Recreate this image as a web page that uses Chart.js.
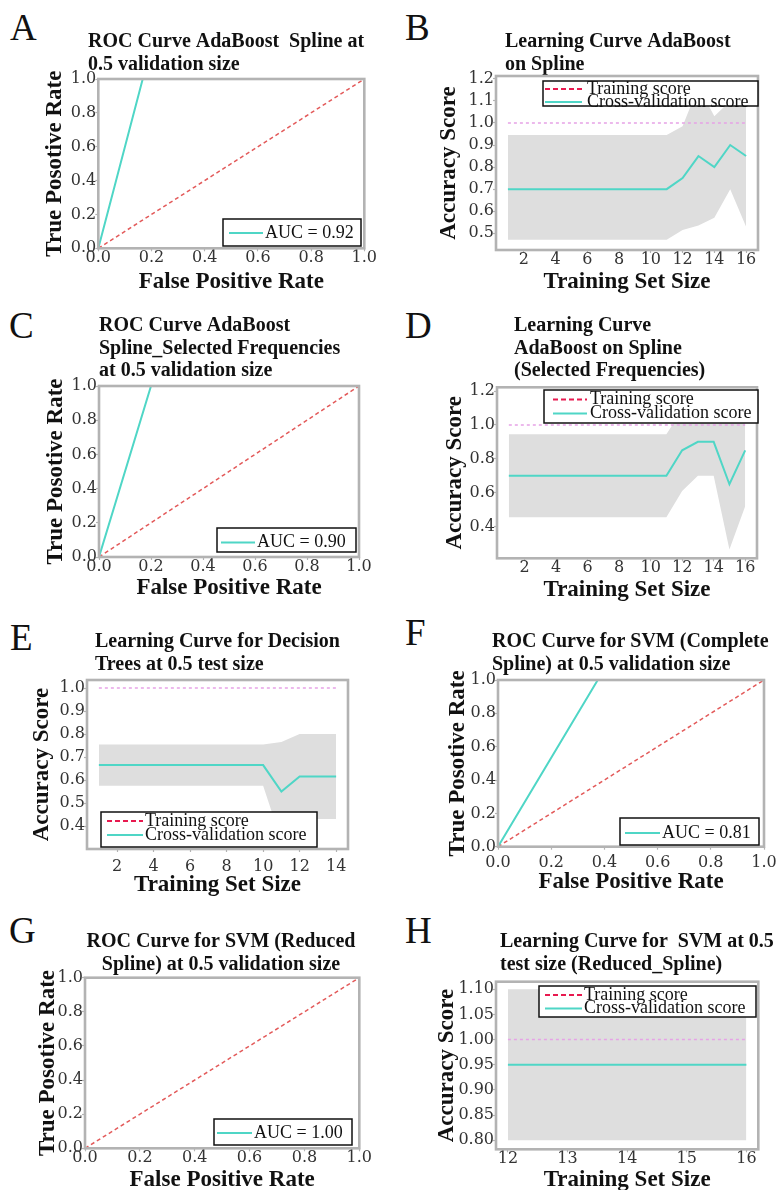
<!DOCTYPE html>
<html>
<head>
<meta charset="utf-8">
<script src="https://cdn.jsdelivr.net/npm/chart.js@4.4.1/dist/chart.umd.min.js"></script>
<style>
body{margin:0;background:#fff;width:781px;height:1190px;position:relative;overflow:hidden}
canvas{position:absolute}
.lt{position:absolute;font-family:"Liberation Serif";font-size:37px;line-height:37px;color:#111}
</style>
</head>
<body>
<div class="lt" style="left:10px;top:9px">A</div>
<div class="lt" style="left:405px;top:9px">B</div>
<div class="lt" style="left:9px;top:307px">C</div>
<div class="lt" style="left:405px;top:307px">D</div>
<div class="lt" style="left:10px;top:619px">E</div>
<div class="lt" style="left:405px;top:614px">F</div>
<div class="lt" style="left:9px;top:912px">G</div>
<div class="lt" style="left:405px;top:912px">H</div>
<canvas id="A"></canvas>
<canvas id="B"></canvas>
<canvas id="C"></canvas>
<canvas id="D"></canvas>
<canvas id="E"></canvas>
<canvas id="F"></canvas>
<canvas id="G"></canvas>
<canvas id="H"></canvas>
<script>
// ROC data
var rocTicks = [0, 0.2, 0.4, 0.6, 0.8, 1.0];
var chanceX = [0, 1];
var chanceY = [0, 1];
var fprA = [0, 0.167, 1];
var tprA = [0, 1, 1];
var fprC = [0, 0.2, 1];
var tprC = [0, 1, 1];
var fprF = [0, 0.375, 1];
var tprF = [0, 1, 1];
var fprG = [0, 0, 1];
var tprG = [0, 1, 1];

// learning curve B
var sizesB = [1, 2, 3, 4, 5, 6, 7, 8, 9, 10, 11, 12, 13, 14, 15, 16];
var trainB = [1, 1, 1, 1, 1, 1, 1, 1, 1, 1, 1, 1, 1, 1, 1, 1];
var cvB = [0.70, 0.70, 0.70, 0.70, 0.70, 0.70, 0.70, 0.70, 0.70, 0.70, 0.70, 0.75, 0.85, 0.80, 0.90, 0.85];
var upperB = [0.945, 0.945, 0.945, 0.945, 0.945, 0.945, 0.945, 0.945, 0.945, 0.945, 0.945, 0.985, 1.165, 1.03, 1.10, 1.17];
var lowerB = [0.47, 0.47, 0.47, 0.47, 0.47, 0.47, 0.47, 0.47, 0.47, 0.47, 0.47, 0.515, 0.535, 0.57, 0.70, 0.53];
var xTicksB = [2, 4, 6, 8, 10, 12, 14, 16];
var yTicksB = [0.5, 0.6, 0.7, 0.8, 0.9, 1.0, 1.1, 1.2];

// learning curve D
var sizesD = [1, 2, 3, 4, 5, 6, 7, 8, 9, 10, 11, 12, 13, 14, 15, 16];
var trainD = [1, 1, 1, 1, 1, 1, 1, 1, 1, 1, 1, 1, 1, 1, 1, 1];
var cvD = [0.70, 0.70, 0.70, 0.70, 0.70, 0.70, 0.70, 0.70, 0.70, 0.70, 0.70, 0.85, 0.90, 0.90, 0.65, 0.85];
var upperD = [0.945, 0.945, 0.945, 0.945, 0.945, 0.945, 0.945, 0.945, 0.945, 0.945, 0.945, 1.09, 1.10, 1.10, 1.035, 1.18];
var lowerD = [0.455, 0.455, 0.455, 0.455, 0.455, 0.455, 0.455, 0.455, 0.455, 0.455, 0.455, 0.61, 0.70, 0.70, 0.265, 0.52];
var xTicksD = [2, 4, 6, 8, 10, 12, 14, 16];
var yTicksD = [0.4, 0.6, 0.8, 1.0, 1.2];

// learning curve E
var sizesE = [1, 2, 3, 4, 5, 6, 7, 8, 9, 10, 11, 12, 13, 14];
var trainE = [1, 1, 1, 1, 1, 1, 1, 1, 1, 1, 1, 1, 1, 1];
var cvE = [0.665, 0.665, 0.665, 0.665, 0.665, 0.665, 0.665, 0.665, 0.665, 0.665, 0.55, 0.615, 0.615, 0.615];
var upperE = [0.755, 0.755, 0.755, 0.755, 0.755, 0.755, 0.755, 0.755, 0.755, 0.755, 0.765, 0.80, 0.80, 0.80];
var lowerE = [0.575, 0.575, 0.575, 0.575, 0.575, 0.575, 0.575, 0.575, 0.575, 0.575, 0.335, 0.43, 0.43, 0.43];
var xTicksE = [2, 4, 6, 8, 10, 12, 14];
var yTicksE = [0.4, 0.5, 0.6, 0.7, 0.8, 0.9, 1.0];

// learning curve H
var sizesH = [12, 13, 14, 15, 16];
var trainH = [1, 1, 1, 1, 1];
var cvH = [0.95, 0.95, 0.95, 0.95, 0.95];
var upperH = [1.10, 1.10, 1.10, 1.10, 1.10];
var lowerH = [0.80, 0.80, 0.80, 0.80, 0.80];
var xTicksH = [12, 13, 14, 15, 16];
var yTicksH = [0.80, 0.85, 0.90, 0.95, 1.00, 1.05, 1.10];

var TEAL = '#4fd6c6';
var RED = '#e35a5a';
var PINK = '#e6a3e6';
var CRIMSON = '#e8194f';
var FRAME = '#b3b3b3';

function pts(xs, ys) {
	return xs.map(function(x, i) { return {x: x, y: ys[i]}; });
}

// moves the title block to where the picture has it
var placeTitle = {
	id: 'placeTitle',
	afterLayout: function(chart, args, o) {
		var t = chart.titleBlock;
		if (!t) return;
		var h = t.height;
		t.top = o.top; t.bottom = o.top + h;
		if (o.align === 'center') { t.left = o.x - 200; t.right = o.x + 200; }
		else { t.left = o.x; t.right = o.x + 400; }
	}
};

var frame = {
	id: 'frame',
	afterDatasetsDraw: function(chart) {
		var a = chart.chartArea, ctx = chart.ctx;
		ctx.save();
		ctx.strokeStyle = FRAME;
		ctx.lineWidth = 2.6;
		ctx.strokeRect(a.left, a.top, a.right - a.left, a.bottom - a.top);
		ctx.restore();
	}
};

var legendBox = {
	id: 'legendBox',
	afterDatasetsDraw: function(chart, args, o) {
		if (!o.box) return;
		var ctx = chart.ctx, dx = o.dx, dy = o.dy, b = o.box;
		ctx.save();
		ctx.fillStyle = '#fff';
		ctx.fillRect(b[0] - dx, b[1] - dy, b[2] - b[0], b[3] - b[1]);
		ctx.strokeStyle = '#111';
		ctx.lineWidth = 1.5;
		ctx.strokeRect(b[0] - dx, b[1] - dy, b[2] - b[0], b[3] - b[1]);
		ctx.font = '18px "Liberation Serif"';
		ctx.textBaseline = 'middle';
		ctx.textAlign = 'left';
		o.items.forEach(function(it) {
			ctx.beginPath();
			ctx.strokeStyle = it.color;
			ctx.lineWidth = 2;
			ctx.setLineDash(it.dash || []);
			ctx.moveTo(it.x0 - dx, it.y - dy);
			ctx.lineTo(it.x1 - dx, it.y - dy);
			ctx.stroke();
			ctx.setLineDash([]);
			ctx.fillStyle = '#111';
			ctx.fillText(it.text, it.tx - dx, it.y - dy);
		});
		ctx.restore();
	}
};

function trainItem(y, x0, x1, tx) {
	return {y: y, x0: x0, x1: x1, tx: tx, color: CRIMSON, dash: [5, 3], text: 'Training score'};
}
function cvItem(y, x0, x1, tx) {
	return {y: y, x0: x0, x1: x1, tx: tx, color: TEAL, text: 'Cross-validation score'};
}
function aucItem(y, x0, x1, tx, text) {
	return {y: y, x0: x0, x1: x1, tx: tx, color: TEAL, text: text};
}

function rocSets(fpr, tpr) {
	return [
		{data: pts(fpr, tpr), borderColor: TEAL, borderWidth: 2, pointRadius: 0},
		{data: pts(chanceX, chanceY), borderColor: RED, borderWidth: 1.5, borderDash: [4, 3], pointRadius: 0}
	];
}
function lcSets(sizes, train, cv, upper, lower) {
	return [
		{data: pts(sizes, train), borderColor: PINK, borderWidth: 1.5, borderDash: [3, 3], pointRadius: 0},
		{data: pts(sizes, cv), borderColor: TEAL, borderWidth: 2, pointRadius: 0},
		{data: pts(sizes, upper), borderWidth: 0, pointRadius: 0, fill: '+1', backgroundColor: '#dedede'},
		{data: pts(sizes, lower), borderWidth: 0, pointRadius: 0, fill: false}
	];
}

function fmt(d) {
	return function(v) { return Number(v).toFixed(d); };
}

function panel(id, p) {
	var cv = document.getElementById(id);
	cv.style.left = p.cx + 'px';
	cv.style.top = p.cy + 'px';
	cv.width = p.cw;
	cv.height = p.ch;
	var f = p.frame;
	var lh = 22.4;
	var tl = 3;
	var padLeft = p.yTitleX - p.cx - 11.5;
	var yw = f[0] - p.cx - padLeft;
	var padRight = p.cx + p.cw - f[2];
	var xh = p.xTitleY - f[3] + 11.5;
	var padBottom = p.cy + p.ch - f[3] - xh;
	var padTop = f[1] - p.cy - p.title.length * lh;
	var tickFont = {family: 'DejaVu Serif', size: 16, lineHeight: 1.2};
	var axisFont = {family: 'Liberation Serif', size: 23, weight: 'bold', lineHeight: 1};
	var grid = {display: true, drawOnChartArea: false, drawTicks: true, tickLength: tl, tickColor: FRAME, tickWidth: 1.2};
	return new Chart(cv, {
		type: 'line',
		data: {datasets: p.datasets},
		options: {
			responsive: false,
			animation: false,
			events: [],
			layout: {padding: {left: padLeft, right: padRight, top: padTop, bottom: padBottom}},
			scales: {
				x: {
					type: 'linear', min: p.xRange[0], max: p.xRange[1],
					afterBuildTicks: function(s) { s.ticks = p.xTicks.map(function(v) { return {value: v}; }); },
					afterFit: function(s) { s.height = xh; s.paddingLeft = 0; s.paddingRight = 0; },
					grid: grid,
					border: {display: false},
					ticks: {padding: (p.xTickPad || 0) - tl, font: tickFont, color: '#333', maxRotation: 0, autoSkip: false, callback: fmt(p.xDec)},
					title: {display: true, text: p.xTitle, font: axisFont, color: '#111', padding: 0}
				},
				y: {
					type: 'linear', min: p.yRange[0], max: p.yRange[1],
					afterBuildTicks: function(s) { s.ticks = p.yTicks.map(function(v) { return {value: v}; }); },
					afterFit: function(s) { s.width = yw; s.paddingTop = 0; s.paddingBottom = 0; },
					grid: grid,
					border: {display: false},
					ticks: {padding: 2 - tl, font: tickFont, color: '#333', autoSkip: false, callback: fmt(p.yDec)},
					title: {display: true, text: p.yTitle, font: axisFont, color: '#111', padding: 0}
				}
			},
			plugins: {
				legend: {display: false},
				tooltip: {enabled: false},
				title: {
					display: true, text: p.title, align: p.center ? 'center' : 'start', color: '#111', padding: 0,
					font: {family: 'Liberation Serif', size: 20, weight: 'bold', lineHeight: 1.12}
				},
				placeTitle: {top: p.titleY - p.cy - lh / 2, x: p.titleX - p.cx, align: p.center ? 'center' : 'start'},
				legendBox: {box: p.legend.box, items: p.legend.items, dx: p.cx, dy: p.cy}
			}
		},
		plugins: [placeTitle, frame, legendBox]
	});
}

var rocX = 'False Positive Rate', rocY = 'True Posotive Rate';
var lcX = 'Training Set Size', lcY = 'Accuracy Score';

panel('A', {
	cx: 0, cy: 0, cw: 390, ch: 310, frame: [98.3, 79, 364.3, 248.3],
	title: ['ROC Curve AdaBoost  Spline at', '0.5 validation size'], titleX: 88, titleY: 42,
	yTitleX: 55, xTitleY: 282, xTitle: rocX, yTitle: rocY,
	xRange: [0, 1], yRange: [0, 1], xTicks: rocTicks, yTicks: rocTicks, xDec: 1, yDec: 1,
	datasets: rocSets(fprA, tprA),
	legend: {box: [223, 219, 361, 246], items: [aucItem(233, 229, 263, 265, 'AUC = 0.92')]}
});
panel('B', {
	cx: 390, cy: 0, cw: 391, ch: 310, frame: [496, 76, 758, 250],
	title: ['Learning Curve AdaBoost', 'on Spline'], titleX: 505, titleY: 42,
	yTitleX: 449, xTitleY: 282, xTitle: lcX, yTitle: lcY,
	xRange: [0.25, 16.75], yRange: [0.424, 1.213], xTicks: xTicksB, yTicks: yTicksB, xDec: 0, yDec: 1,
	datasets: lcSets(sizesB, trainB, cvB, upperB, lowerB),
	legend: {box: [543, 81, 758, 106], items: [trainItem(89, 545, 582, 587), cvItem(102, 545, 582, 587)]}
});
panel('C', {
	cx: 0, cy: 300, cw: 390, ch: 310, frame: [99, 386, 359, 557],
	title: ['ROC Curve AdaBoost', 'Spline_Selected Frequencies', 'at 0.5 validation size'], titleX: 99, titleY: 326,
	yTitleX: 56, xTitleY: 588, xTitle: rocX, yTitle: rocY,
	xRange: [0, 1], yRange: [0, 1], xTicks: rocTicks, yTicks: rocTicks, xDec: 1, yDec: 1,
	datasets: rocSets(fprC, tprC),
	legend: {box: [217, 528, 356, 552], items: [aucItem(542.5, 221, 255, 257, 'AUC = 0.90')]}
});
panel('D', {
	cx: 390, cy: 300, cw: 391, ch: 310, frame: [497, 387.3, 757, 558.3],
	title: ['Learning Curve', 'AdaBoost on Spline', '(Selected Frequencies)'], titleX: 514, titleY: 326,
	yTitleX: 455, xTitleY: 590, xTitle: lcX, yTitle: lcY,
	xRange: [0.25, 16.75], yRange: [0.213, 1.222], xTicks: xTicksD, yTicks: yTicksD, xDec: 0, yDec: 1,
	datasets: lcSets(sizesD, trainD, cvD, upperD, lowerD),
	legend: {box: [544, 390, 758, 423], items: [trainItem(399.5, 553, 587, 590), cvItem(413.5, 553, 587, 590)]}
});
panel('E', {
	cx: 0, cy: 600, cw: 390, ch: 310, frame: [87, 680, 348, 849],
	title: ['Learning Curve for Decision', 'Trees at 0.5 test size'], titleX: 95, titleY: 642,
	yTitleX: 42, xTitleY: 885, xTickPad: 8, xTitle: lcX, yTitle: lcY,
	xRange: [0.35, 14.65], yRange: [0.30, 1.035], xTicks: xTicksE, yTicks: yTicksE, xDec: 0, yDec: 1,
	datasets: lcSets(sizesE, trainE, cvE, upperE, lowerE),
	legend: {box: [101, 812, 317, 847], items: [trainItem(821, 107, 143, 145), cvItem(835, 107, 143, 145)]}
});
panel('F', {
	cx: 390, cy: 600, cw: 391, ch: 310, frame: [498, 680, 764, 846.7],
	title: ['ROC Curve for SVM (Complete', 'Spline) at 0.5 validation size'], titleX: 492, titleY: 642,
	yTitleX: 458, xTitleY: 882, xTickPad: 7, xTitle: rocX, yTitle: rocY,
	xRange: [0, 1], yRange: [0, 1], xTicks: rocTicks, yTicks: rocTicks, xDec: 1, yDec: 1,
	datasets: rocSets(fprF, tprF),
	legend: {box: [620, 818, 759, 845], items: [aucItem(833, 625, 660, 662, 'AUC = 0.81')]}
});
panel('G', {
	cx: 0, cy: 900, cw: 390, ch: 300, frame: [85, 977.7, 359.3, 1148.3],
	title: ['ROC Curve for SVM (Reduced', 'Spline) at 0.5 validation size'], titleX: 221, titleY: 942, center: true,
	yTitleX: 48, xTitleY: 1180, xTitle: rocX, yTitle: rocY,
	xRange: [0, 1], yRange: [0, 1], xTicks: rocTicks, yTicks: rocTicks, xDec: 1, yDec: 1,
	datasets: rocSets(fprG, tprG),
	legend: {box: [214, 1119, 352, 1145], items: [aucItem(1133, 217, 252, 254, 'AUC = 1.00')]}
});
panel('H', {
	cx: 390, cy: 900, cw: 391, ch: 300, frame: [496, 981.7, 758.3, 1149.3],
	title: ['Learning Curve for  SVM at 0.5', 'test size (Reduced_Spline)'], titleX: 500, titleY: 942,
	yTitleX: 447, xTitleY: 1180, xTitle: lcX, yTitle: lcY,
	xRange: [11.8, 16.2], yRange: [0.782, 1.115], xTicks: xTicksH, yTicks: yTicksH, xDec: 0, yDec: 2,
	datasets: lcSets(sizesH, trainH, cvH, upperH, lowerH),
	legend: {box: [539, 986, 756, 1017], items: [trainItem(995, 545, 582, 584), cvItem(1008.5, 545, 582, 584)]}
});
</script>
</body>
</html>
